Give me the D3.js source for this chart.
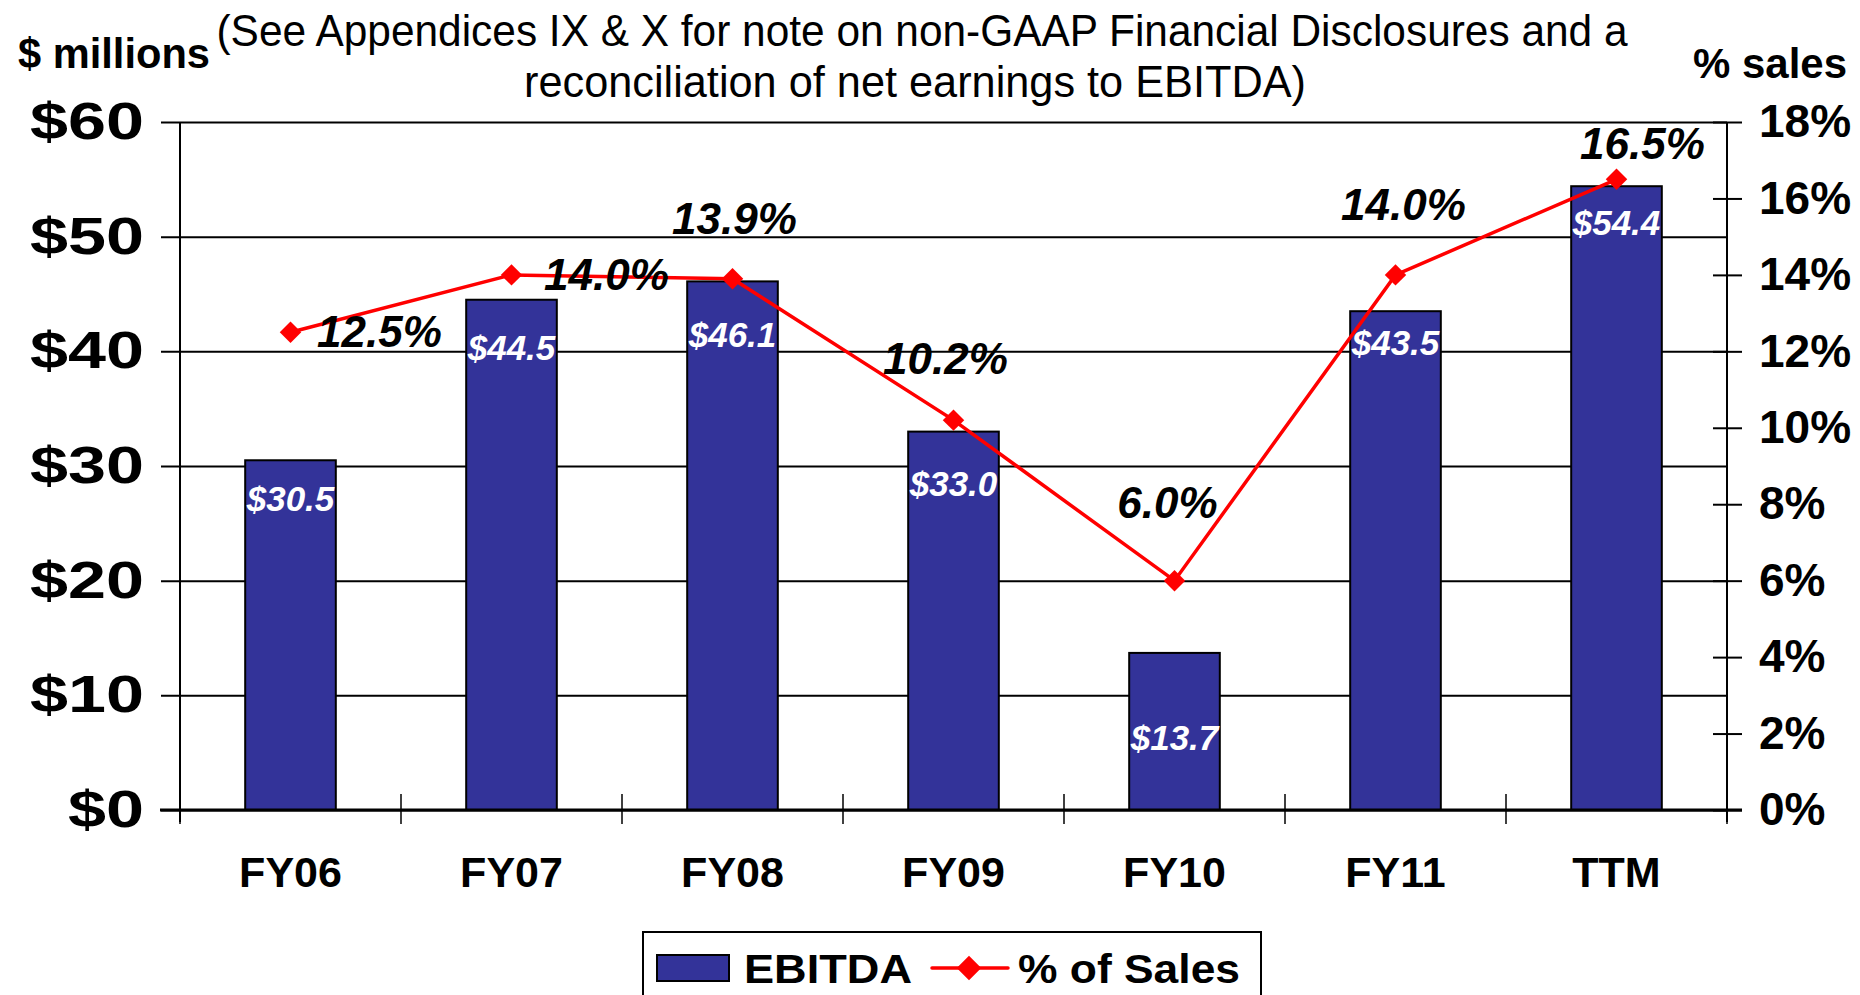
<!DOCTYPE html>
<html>
<head>
<meta charset="utf-8">
<script src="https://cdn.jsdelivr.net/npm/d3@7"></script>
<style>
  html, body { margin: 0; padding: 0; background: #fff; }
  svg { display: block; font-family: "Liberation Sans", Arial, sans-serif; }
</style>
</head>
<body>
<svg id="chart" width="1860" height="995"></svg>
<script>
// chart data
const categories = ["FY06", "FY07", "FY08", "FY09", "FY10", "FY11", "TTM"]
const ebitda = [30.5, 44.5, 46.1, 33.0, 13.7, 43.5, 54.4]
const pctSales = [12.5, 14.0, 13.9, 10.2, 6.0, 14.0, 16.5]
const leftTicks = [0, 10, 20, 30, 40, 50, 60]
const rightTicks = [0, 2, 4, 6, 8, 10, 12, 14, 16, 18]

const titleLines = [
  "(See Appendices IX & X for note on non-GAAP Financial Disclosures and a",
  "reconciliation of net earnings to EBITDA)"
]

// hand-placed label nudges, as in the source slide
const barLabelDy = [39, 48, 54, 52, 85, 32, 37]
const pctLabelOffset = [[89, 0], [95, 0], [2, -60], [-8, -61], [-7, -78], [8, -70], [26, -35]]

const svg = d3.select("#chart")
const plotL = 180, plotR = 1727, plotT = 122, plotB = 810

const x = d3.scaleBand().domain(categories).range([plotL, plotR]).padding(0)
const yL = d3.scaleLinear().domain([0, 60]).range([plotB, plotT])
const yR = d3.scaleLinear().domain([0, 18]).range([plotB, plotT])
const barW = x.bandwidth() * 0.41
const cx = i => x(categories[i]) + x.bandwidth() / 2

// gridlines + left labels (the slide's labels are stretched wide)
const gLeft = svg.append("g").attr("transform", `translate(161,0)`)
  .call(d3.axisLeft(yL).tickValues(leftTicks).tickFormat(d => "$" + d)
    .tickSizeInner(-(plotR - 161)).tickSizeOuter(0).tickPadding(17))
gLeft.select(".domain").remove()
gLeft.selectAll("line").attr("stroke", "#000").attr("stroke-width", 2)
gLeft.selectAll("text").attr("font-size", 52).attr("font-weight", "bold").attr("fill", "#000")
  .attr("textLength", d => ("$" + d).length * 38).attr("lengthAdjust", "spacingAndGlyphs")

// right axis
const gRight = svg.append("g").attr("transform", `translate(1713,0)`)
  .call(d3.axisRight(yR).tickValues(rightTicks).tickFormat(d => d + "%")
    .tickSizeInner(29).tickSizeOuter(0).tickPadding(17))
gRight.select(".domain").remove()
gRight.selectAll("line").attr("stroke", "#000").attr("stroke-width", 2)
gRight.selectAll("text").attr("font-size", 46).attr("font-weight", "bold").attr("fill", "#000")

// axis lines
svg.append("line").attr("x1", plotL).attr("x2", plotL).attr("y1", plotT).attr("y2", plotB + 12)
  .attr("stroke", "#000").attr("stroke-width", 2)
svg.append("line").attr("x1", plotR).attr("x2", plotR).attr("y1", plotT).attr("y2", plotB + 12)
  .attr("stroke", "#000").attr("stroke-width", 2)

// bars
svg.append("g").selectAll("rect").data(categories).join("rect")
  .attr("x", d => x(d) + (x.bandwidth() - barW) / 2)
  .attr("y", (d, i) => yL(ebitda[i]))
  .attr("width", barW)
  .attr("height", (d, i) => yL(0) - yL(ebitda[i]))
  .attr("fill", "#333399").attr("stroke", "#000").attr("stroke-width", 2)

// x axis
const gX = svg.append("g").attr("transform", `translate(0,${plotB})`)
  .call(d3.axisBottom(x).tickSize(0).tickPadding(0))
gX.select(".domain").remove()
gX.selectAll("text").attr("y", 77).attr("dy", 0)
  .attr("font-size", 43).attr("font-weight", "bold").attr("fill", "#000")
svg.append("line").attr("x1", 160).attr("x2", 1742).attr("y1", plotB).attr("y2", plotB)
  .attr("stroke", "#000").attr("stroke-width", 3)
const bounds = categories.map(c => x(c)).concat([x.range()[1]])
svg.append("g").selectAll("line").data(bounds).join("line")
  .attr("x1", d => d).attr("x2", d => d).attr("y1", plotB - 16).attr("y2", plotB + 14)
  .attr("stroke", "#000").attr("stroke-width", 1.5)

// bar value labels
svg.append("g").selectAll("text").data(ebitda).join("text")
  .attr("x", (d, i) => cx(i))
  .attr("y", (d, i) => yL(d) + barLabelDy[i] + 12)
  .attr("text-anchor", "middle")
  .attr("font-size", 35).attr("font-weight", "bold").attr("font-style", "italic")
  .attr("fill", "#fff")
  .text(d => "$" + d.toFixed(1))

// % of sales line
const line = d3.line().x((d, i) => cx(i)).y(d => yR(d))
svg.append("path").datum(pctSales).attr("d", line)
  .attr("fill", "none").attr("stroke", "#ff0000").attr("stroke-width", 3.5)
svg.append("g").selectAll("path").data(pctSales).join("path")
  .attr("d", d3.symbol(d3.symbolSquare, 230))
  .attr("transform", (d, i) => `translate(${cx(i)},${yR(d)}) rotate(45)`)
  .attr("fill", "#ff0000")

svg.append("g").selectAll("text").data(pctSales).join("text")
  .attr("x", (d, i) => cx(i) + pctLabelOffset[i][0])
  .attr("y", (d, i) => yR(d) + pctLabelOffset[i][1] + 15)
  .attr("text-anchor", "middle")
  .attr("font-size", 44).attr("font-weight", "bold").attr("font-style", "italic")
  .attr("fill", "#000")
  .text(d => d.toFixed(1) + "%")

// titles
svg.append("text").attr("x", 922).attr("y", 46).attr("text-anchor", "middle")
  .attr("font-size", 44).attr("textLength", 1411).attr("lengthAdjust", "spacingAndGlyphs")
  .text(titleLines[0])
svg.append("text").attr("x", 915).attr("y", 97).attr("text-anchor", "middle")
  .attr("font-size", 44).attr("textLength", 782).attr("lengthAdjust", "spacingAndGlyphs")
  .text(titleLines[1])
svg.append("text").attr("x", 18).attr("y", 68).attr("font-size", 42).attr("font-weight", "bold")
  .attr("textLength", 192).attr("lengthAdjust", "spacingAndGlyphs").text("$ millions")
svg.append("text").attr("x", 1693).attr("y", 78).attr("font-size", 42).attr("font-weight", "bold")
  .attr("textLength", 154).attr("lengthAdjust", "spacingAndGlyphs").text("% sales")

// legend
const lg = svg.append("g")
lg.append("rect").attr("x", 643).attr("y", 932).attr("width", 618).attr("height", 90)
  .attr("fill", "#fff").attr("stroke", "#000").attr("stroke-width", 2)
lg.append("rect").attr("x", 657).attr("y", 955).attr("width", 72).attr("height", 26)
  .attr("fill", "#333399").attr("stroke", "#000").attr("stroke-width", 2)
lg.append("text").attr("x", 744).attr("y", 983).attr("font-size", 40).attr("font-weight", "bold")
  .attr("textLength", 168).attr("lengthAdjust", "spacingAndGlyphs").text("EBITDA")
lg.append("line").attr("x1", 932).attr("x2", 1008).attr("y1", 968).attr("y2", 968)
  .attr("stroke", "#ff0000").attr("stroke-width", 3.5).attr("stroke-linecap", "round")
lg.append("path").attr("d", d3.symbol(d3.symbolSquare, 300))
  .attr("transform", "translate(969,968) rotate(45)").attr("fill", "#ff0000")
lg.append("text").attr("x", 1018).attr("y", 983).attr("font-size", 40).attr("font-weight", "bold")
  .attr("textLength", 222).attr("lengthAdjust", "spacingAndGlyphs").text("% of Sales")
</script>
</body>
</html>
